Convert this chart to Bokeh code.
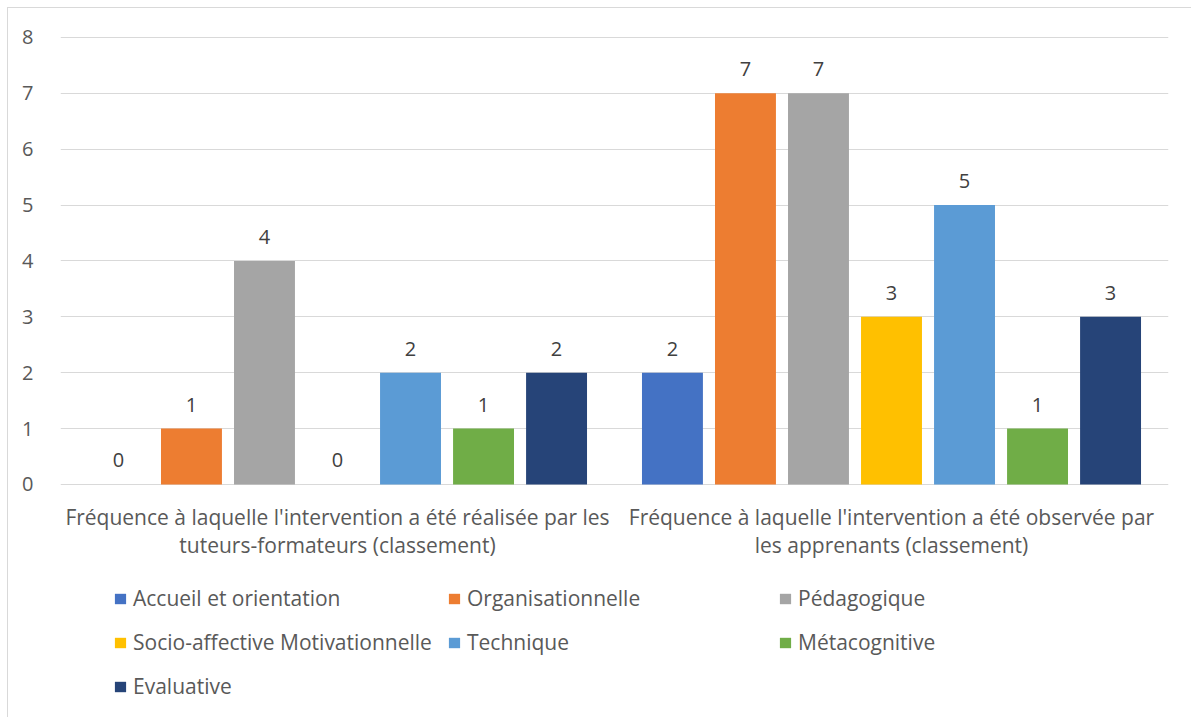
from bokeh.plotting import figure
from bokeh.models import FactorRange, Range1d, Legend, LegendItem, ColumnDataSource, FixedTicker
from bokeh.transform import dodge
from bokeh.core.properties import value
from bokeh.embed import file_html
from bokeh.resources import INLINE

categories = [
    "Fréquence à laquelle l'intervention a été réalisée par les tuteurs-formateurs (classement)",
    "Fréquence à laquelle l'intervention a été observée par les apprenants (classement)",
]
category_labels = [
    "Fréquence à laquelle l'intervention a été réalisée par les\ntuteurs-formateurs (classement)",
    "Fréquence à laquelle l'intervention a été observée par\nles apprenants (classement)",
]
series_names = [
    "Accueil et orientation",
    "Organisationnelle",
    "Pédagogique",
    "Socio-affective Motivationnelle",
    "Technique",
    "Métacognitive",
    "Evaluative",
]
accueil = [0, 2]
organisationnelle = [1, 7]
pedagogique = [4, 7]
socio_affective = [0, 3]
technique = [2, 5]
metacognitive = [1, 1]
evaluative = [2, 3]
series_values = [accueil, organisationnelle, pedagogique, socio_affective,
                 technique, metacognitive, evaluative]
y_ticks = [0, 1, 2, 3, 4, 5, 6, 7, 8]
colors = ["#4472C4", "#ED7D31", "#A5A5A5", "#FFC000", "#5B9BD5", "#70AD47", "#264478"]

FONT = "Open Sans"

p = figure(
    x_range=FactorRange(*categories, range_padding=0),
    y_range=Range1d(-4.188, 8.519),
    width=1184, height=710,
    output_backend="svg", toolbar_location=None,
    min_border_left=52, min_border_right=24, min_border_top=0, min_border_bottom=0,
)
p.styles = {
    "margin-left": "7px", "margin-top": "7px",
    "border-left": "1px solid #D9D9D9", "border-top": "1px solid #D9D9D9",
}
p.outline_line_color = None
p.background_fill_color = "white"
p.border_fill_color = "white"

p.xaxis.visible = False
p.xgrid.grid_line_color = None

p.yaxis.ticker = FixedTicker(ticks=y_ticks)
p.ygrid.grid_line_color = "#D9D9D9"
p.ygrid.grid_line_width = 1
p.yaxis.axis_line_color = None
p.yaxis.major_tick_line_color = None
p.yaxis.minor_tick_line_color = None
p.yaxis.major_label_standoff = 21
p.yaxis.major_label_text_font = FONT
p.yaxis.major_label_text_font_size = "20px"
p.yaxis.major_label_text_color = "#595959"

# category labels under the zero line
cat_src = ColumnDataSource(dict(cat=categories, lab=category_labels, y=[0, 0]))
p.text(x="cat", y="y", text="lab", source=cat_src, text_align="center",
       text_baseline="top", y_offset=19, text_line_height=0.98,
       text_font=value(FONT), text_font_size="21px", text_color="#595959")

n = len(series_names)
slot = 0.1318
bar_w = 0.110
renderers = []
for i, (name, vals, col) in enumerate(zip(series_names, series_values, colors)):
    off = (i - (n - 1) / 2) * slot
    src = ColumnDataSource(dict(cat=categories, val=vals, lab=[str(v) for v in vals]))
    r = p.vbar(x=dodge("cat", off, range=p.x_range), top="val", width=bar_w, source=src,
               fill_color=col, line_color=None)
    renderers.append(r)
    p.text(x=dodge("cat", off, range=p.x_range), y="val", text="lab", source=src,
           text_align="center", text_baseline="middle", y_offset=-24,
           text_font=value(FONT), text_font_size="20px", text_color="#404040")

columns = [[0, 3, 6], [1, 4], [2, 5]]
xs = [53, 387, 718]
for colidx, idxs in enumerate(columns):
    items = [LegendItem(label=series_names[k], renderers=[renderers[k]]) for k in idxs]
    leg = Legend(
        items=items, location=(xs[colidx], 18 if len(idxs) == 3 else 62),
        orientation="vertical", padding=0, margin=0, spacing=16,
        glyph_width=14, glyph_height=13, label_height=28, label_standoff=6,
        label_text_font=FONT, label_text_font_size="21px", label_text_color="#595959",
        background_fill_alpha=0, border_line_color=None,
    )
    p.add_layout(leg, "center")

open("out.html", "w").write(file_html(p, INLINE))
